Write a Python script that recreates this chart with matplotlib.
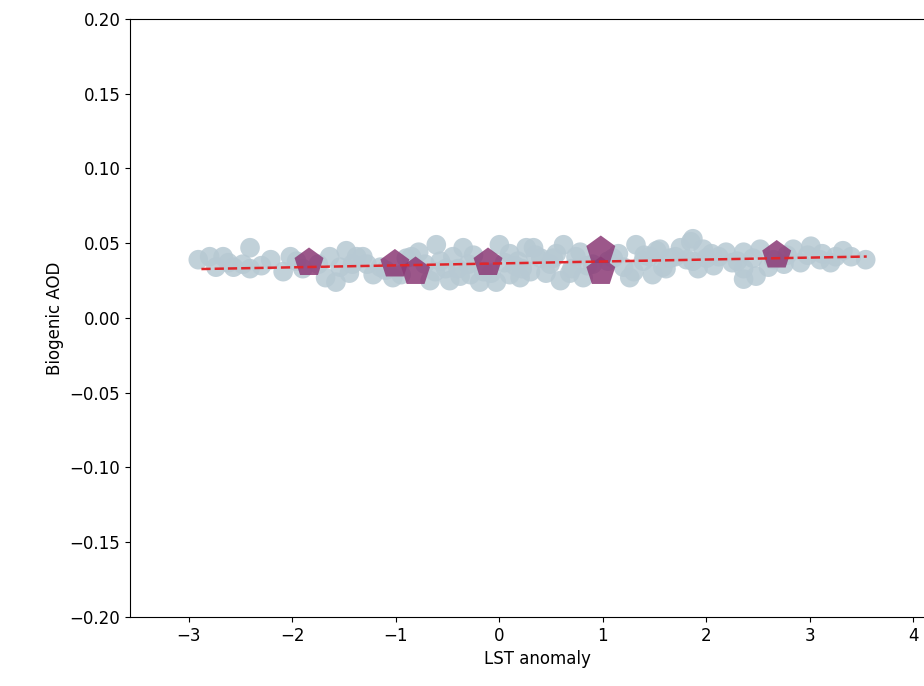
import matplotlib.pyplot as plt

# gray points (LST anomaly vs biogenic AOD)
gray_x = [-2.91, -2.80, -2.67, -2.57, -2.74, -2.41, -2.41, -2.21, -2.09, -2.02,
          -1.64, -1.68, -1.54, -1.48, -1.38, -1.58, -1.32, -1.22, -1.03, -0.61,
          -0.57, -0.67, -0.48, -0.35, -0.28, 0.00, -0.19, 0.10, -0.03, 0.20,
          0.26, -0.45, 0.10, 0.33, 0.30, 0.49, 0.62, 0.59, 0.74, 0.81,
          1.20, 1.32, 1.39, 1.26, 1.52, 1.58, 1.75, 1.85, 1.87, 1.55,
          1.61, 1.87, 1.81, 1.97, 2.07, 2.19, 2.36, 2.36, 2.36, 2.48,
          2.52, 2.84, 2.91, 3.01, 3.10, 3.32, 3.20, 3.54, -1.90, -1.75,
          -1.10, -0.90, -0.72, -0.40, -0.15, 0.05, 0.40, 0.70, 1.10, 1.45,
          2.00, 2.25, 2.65, 3.40, -1.28, -0.52, 0.15, 0.90, 1.70, -2.30,
          -2.62, -2.48, -1.96, -1.45, -1.15, -0.95, -0.85, -0.62, -0.38, -0.25,
          -0.08, 0.18, 0.35, 0.45, 0.55, 0.68, 0.85, 1.15, 1.30, 1.48,
          1.65, 1.92, 2.12, 2.30, 2.45, 2.60, 2.78, 2.98, 3.25, -1.42,
          -0.78, -0.30, 0.22, 0.52, 0.78, 1.05, 1.40, 2.05, 2.75, 3.12]
gray_y = [0.039, 0.041, 0.041, 0.034, 0.034, 0.047, 0.033, 0.039, 0.031, 0.041,
          0.041, 0.027, 0.034, 0.045, 0.041, 0.024, 0.041, 0.029, 0.027, 0.049,
          0.038, 0.025, 0.025, 0.047, 0.029, 0.049, 0.024, 0.043, 0.024, 0.027,
          0.047, 0.041, 0.029, 0.047, 0.031, 0.036, 0.049, 0.025, 0.041, 0.027,
          0.034, 0.049, 0.038, 0.027, 0.045, 0.034, 0.047, 0.051, 0.038, 0.046,
          0.033, 0.053, 0.039, 0.046, 0.035, 0.044, 0.044, 0.033, 0.026, 0.028,
          0.046, 0.046, 0.037, 0.048, 0.039, 0.045, 0.037, 0.039, 0.033, 0.036,
          0.032, 0.040, 0.036, 0.033, 0.031, 0.037, 0.040, 0.033, 0.040, 0.041,
          0.040, 0.037, 0.039, 0.041, 0.036, 0.033, 0.035, 0.036, 0.041, 0.035,
          0.037, 0.036, 0.038, 0.030, 0.034, 0.029, 0.041, 0.031, 0.028, 0.042,
          0.030, 0.038, 0.042, 0.030, 0.043, 0.030, 0.035, 0.043, 0.031, 0.029,
          0.040, 0.033, 0.041, 0.038, 0.040, 0.034, 0.042, 0.042, 0.041, 0.036,
          0.044, 0.036, 0.033, 0.040, 0.044, 0.038, 0.042, 0.043, 0.036, 0.043]

# purple pentagons
pent_x = [-1.84, -1.01, -0.81, -0.11, 0.98, 0.98, 2.68]
pent_y = [0.037, 0.036, 0.031, 0.037, 0.045, 0.031, 0.042]

# dashed trend line
line_x = [-2.88, 3.55]
slope = 0.0013
intercept = 0.0365

fig = plt.figure(figsize=(9.24, 6.86), dpi=100)
ax = fig.add_axes([0.1407, 0.1006, 0.8813, 0.8717])

ax.scatter(gray_x, gray_y, s=200, color='#b7c9d3', alpha=0.85, edgecolors='none', zorder=2)
ax.scatter(pent_x, pent_y, s=480, marker='p', color='#8b3a76', alpha=0.85, edgecolors='none', zorder=3)
ax.plot(line_x, [intercept + slope * x for x in line_x], color='#e0262b', linestyle='--', linewidth=1.8, zorder=4)

ax.set_xlim(-3.57, 4.3)
ax.set_ylim(-0.20, 0.20)
ax.set_xticks([-3, -2, -1, 0, 1, 2, 3, 4])
ax.set_yticks([-0.20, -0.15, -0.10, -0.05, 0.00, 0.05, 0.10, 0.15, 0.20])
ax.set_yticklabels(['%.2f' % v if v >= 0 else '\u2212%.2f' % -v for v in ax.get_yticks()])
ax.tick_params(labelsize=12)
ax.set_xlabel('LST anomaly', fontsize=12)
ax.set_ylabel('Biogenic AOD', fontsize=12)

fig.savefig('out.png', dpi=100)
